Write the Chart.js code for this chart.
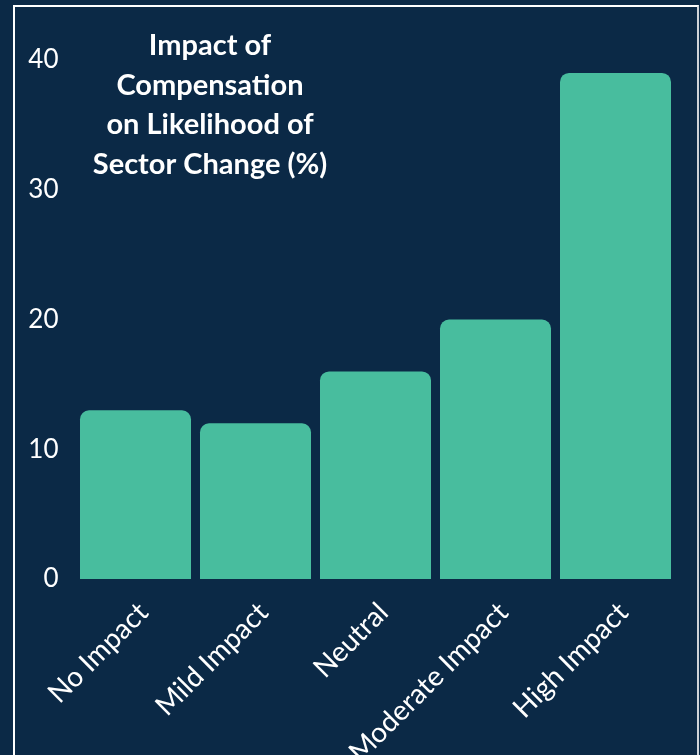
<!DOCTYPE html>
<html>
<head>
<meta charset="utf-8">
<script src="https://cdn.jsdelivr.net/npm/chart.js@4"></script>
<style>
  html, body { margin: 0; padding: 0; background: #0b2946; overflow: hidden; }
  #box { position: absolute; left: 13px; top: 5px; width: 682px; height: 820px;
         border: 2px solid #ffffff; border-right-color: #d0d4d9; background: #0b2946; }
  #wrap { position: absolute; left: 0; top: 0; width: 682px; height: 820px; }
</style>
</head>
<body>
<div id="box"><div id="wrap"><canvas id="c"></canvas></div></div>
<script>
const categories = ["No Impact", "Mild Impact", "Neutral", "Moderate Impact", "High Impact"];
const values = [13, 12, 16, 20, 39];
const yTicks = [0, 10, 20, 30, 40];
const titleLines = ["Impact of", "Compensation", "on Likelihood of", "Sector Change (%)"];

const titlePlugin = {
  id: 'innerTitle',
  afterDraw(chart) {
    const ctx = chart.ctx;
    ctx.save();
    ctx.fillStyle = '#ffffff';
    ctx.font = 'bold 29px Lato';
    ctx.textAlign = 'center';
    ctx.textBaseline = 'middle';
    titleLines.forEach((t, i) => ctx.fillText(t, 195, 39 + i * 39.5));
    ctx.restore();
  }
};

new Chart(document.getElementById('c'), {
  type: 'bar',
  data: {
    labels: categories,
    datasets: [{
      data: values,
      backgroundColor: '#48bd9e',
      borderRadius: 9,
      borderSkipped: 'bottom',
      categoryPercentage: 1.0,
      barPercentage: 0.925
    }]
  },
  options: {
    responsive: true,
    maintainAspectRatio: false,
    animation: false,
    layout: { padding: { left: 10, right: 21.5, top: 53, bottom: 0 } },
    plugins: { legend: { display: false }, title: { display: false }, tooltip: { enabled: false } },
    scales: {
      x: {
        grid: { display: false, drawTicks: false },
        border: { display: false },
        ticks: { color: '#ffffff', font: { family: 'Lato', size: 28 }, minRotation: 45, maxRotation: 45, padding: 17, labelOffset: 8 },
        afterFit(s) { s.height = 248; }
      },
      y: {
        min: 0, max: 40,
        grid: { display: false, drawTicks: false },
        border: { display: false },
        afterBuildTicks(s) { s.ticks = yTicks.map(v => ({ value: v })); },
        ticks: { color: '#ffffff', font: { family: 'Lato', size: 26 }, padding: 17 },
        afterFit(s) { s.width = 50.5; }
      }
    }
  },
  plugins: [titlePlugin]
});
</script>
</body>
</html>
